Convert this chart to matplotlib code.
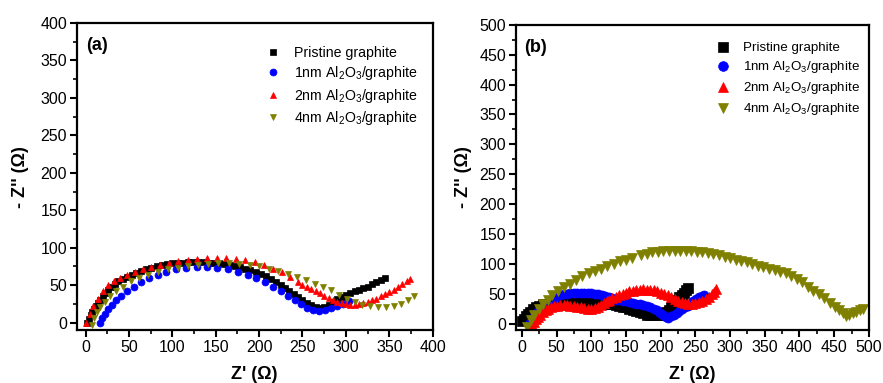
import matplotlib
matplotlib.use("Agg")
import matplotlib.pyplot as plt
from matplotlib.ticker import MultipleLocator

plt.rcParams["font.family"] = ["Liberation Sans", "DejaVu Sans"]
plt.rcParams["mathtext.fontset"] = "custom"
plt.rcParams["mathtext.rm"] = "Liberation Sans"
plt.rcParams["mathtext.it"] = "Liberation Sans:italic"

labels = [
    "Pristine graphite",
    "1nm Al$_2$O$_3$/graphite",
    "2nm Al$_2$O$_3$/graphite",
    "4nm Al$_2$O$_3$/graphite",
]
colors  = ["#000000", "#0000ff", "#ff0000", "#808000"]
markers = ["s", "o", "^", "v"]

# panel (a)
a_pristine_x = [2, 4, 6, 8, 10, 12, 14, 17, 20, 23, 26, 30, 34, 38, 43, 48, 53, 58, 64, 70,
                76, 82, 88, 94, 100, 106, 112, 118, 124, 130, 136, 142, 148, 154, 160, 166,
                172, 178, 184, 190, 196, 202, 208, 214, 220, 225, 230, 235, 240, 245, 250,
                255, 260, 265, 270, 275, 280, 285, 290, 295, 300, 305, 310, 315, 320, 325,
                330, 335, 340, 345]
a_pristine_y = [0, 5, 10, 14, 18, 22, 26, 30, 35, 39, 43, 48, 52, 55, 58, 61, 64, 66, 69, 71,
                73, 75, 77, 78, 79, 80, 80, 81, 81, 81, 81, 80, 80, 79, 78, 77,
                76, 74, 72, 70, 68, 65, 62, 58, 54, 50, 46, 42, 38, 34, 30,
                26, 23, 21, 20, 21, 23, 27, 31, 34, 37, 40, 42, 44, 46, 48,
                51, 54, 57, 60]
a_1nm_x = [17, 19, 22, 26, 30, 35, 41, 48, 56, 64, 73, 83, 93, 104, 116, 128, 140, 152, 164, 176,
           187, 197, 207, 216, 225, 233, 241, 248, 255, 262, 269, 276, 283, 290, 297, 304]
a_1nm_y = [0, 6, 12, 18, 24, 30, 36, 42, 48, 54, 59, 64, 68, 71, 73, 74, 74, 73, 71, 68,
           64, 60, 54, 48, 42, 36, 30, 25, 20, 17, 16, 17, 19, 22, 25, 29]
a_2nm_x = [1, 5, 9, 14, 20, 26, 33, 40, 48, 57, 66, 76, 86, 96, 107, 118, 129, 140, 151, 162,
           173, 184, 195, 206, 216, 226, 236, 245, 250, 255, 260, 265, 270, 275, 280, 285,
           290, 295, 300, 305, 310, 315, 320, 325, 330, 335, 340, 345, 350, 355, 360, 365,
           370, 374]
a_2nm_y = [0, 12, 22, 32, 42, 50, 55, 59, 63, 67, 71, 74, 77, 80, 82, 84, 85, 86, 86, 86,
           85, 84, 81, 77, 72, 67, 61, 54, 50, 47, 45, 42, 39, 36, 33, 30,
           28, 26, 25, 24, 24, 25, 26, 28, 30, 32, 35, 38, 41, 44, 48, 51,
           55, 58]
a_4nm_x = [7, 10, 13, 17, 22, 28, 35, 43, 52, 62, 72, 83, 95, 107, 118, 130, 141, 153, 165, 177,
           189, 200, 211, 222, 233, 244, 254, 264, 274, 283, 292, 301, 310, 319, 328, 337,
           346, 355, 364, 372, 378]
a_4nm_y = [-3, 6, 14, 21, 28, 35, 42, 48, 55, 60, 64, 68, 71, 73, 75, 77, 78, 79, 79, 78,
           77, 75, 72, 69, 65, 61, 57, 52, 48, 43, 37, 32, 27, 24, 22, 21,
           21, 22, 25, 30, 35]

# panel (b)
b_pristine_x = [0, 3, 6, 9, 12, 16, 20, 25, 30, 35, 40, 45, 50, 55, 60, 65, 70, 75, 80, 85,
                90, 95, 100, 105, 110, 115, 120, 125, 130, 135, 140, 145, 150, 155, 160, 165,
                170, 175, 180, 185, 190, 195, 200, 204, 208, 212, 215, 218, 221, 224, 227,
                230, 233, 236, 239]
b_pristine_y = [4, 8, 12, 16, 20, 24, 27, 30, 32, 33, 34, 35, 36, 36, 36, 37, 37, 37, 37, 37,
                37, 36, 36, 35, 34, 33, 33, 32, 32, 31, 30, 28, 27, 25, 23, 21,
                19, 17, 15, 14, 14, 14, 15, 17, 20, 23, 27, 31, 35, 39, 44,
                48, 52, 56, 60]
b_1nm_x = [10, 13, 16, 19, 22, 26, 30, 34, 38, 42, 46, 50, 55, 60, 65, 70, 75, 80, 85, 90,
           95, 100, 105, 110, 115, 120, 125, 130, 135, 140, 145, 150, 155, 160, 165, 170,
           175, 180, 185, 190, 195, 199, 203, 207, 211, 215, 219, 223, 227, 231, 235, 239,
           243, 247, 251, 255, 259, 263]
b_1nm_y = [0, 5, 10, 15, 19, 24, 28, 32, 36, 39, 42, 45, 47, 49, 50, 51, 52, 52, 52, 52,
           51, 51, 50, 49, 48, 46, 44, 42, 40, 39, 38, 37, 36, 34, 33, 32,
           31, 29, 27, 25, 22, 18, 14, 11, 10, 12, 15, 18, 21, 24, 27, 30,
           34, 38, 41, 44, 46, 48]
b_2nm_x = [14, 17, 20, 23, 26, 30, 34, 38, 42, 46, 50, 55, 60, 65, 70, 75, 80, 85, 90, 95,
           100, 105, 110, 114, 118, 122, 126, 130, 135, 140, 145, 150, 155, 160, 165, 170,
           175, 180, 185, 190, 195, 200, 205, 210, 215, 220, 225, 230, 235, 240, 245, 250,
           255, 260, 265, 270, 274, 277, 280]
b_2nm_y = [-3, 2, 7, 11, 15, 19, 22, 25, 27, 29, 30, 31, 31, 31, 30, 29, 28, 27, 26, 25,
           25, 26, 28, 31, 34, 37, 40, 42, 45, 48, 50, 52, 54, 55, 56, 57,
           58, 57, 57, 56, 54, 52, 50, 47, 44, 41, 38, 36, 34, 33, 33, 34,
           36, 38, 41, 45, 49, 53, 58]
b_4nm_x = [8, 13, 18, 24, 30, 37, 44, 52, 60, 69, 78, 87, 96, 105, 114, 123, 132, 141, 150, 159,
           172, 180, 188, 196, 204, 212, 220, 228, 236, 244, 252, 260, 268, 276, 284, 292,
           300, 308, 316, 324, 332, 340, 348, 356, 364, 372, 380, 388, 396, 404, 412, 420,
           428, 436, 444, 451, 457, 462, 467, 472, 477, 482, 487, 492]
b_4nm_y = [-5, 6, 15, 24, 32, 40, 47, 54, 61, 67, 73, 79, 84, 88, 92, 96, 100, 104, 107, 110,
           115, 117, 119, 120, 121, 121, 121, 121, 121, 121, 120, 119, 118, 116, 114, 111,
           109, 107, 105, 103, 100, 97, 95, 92, 89, 87, 84, 80, 75, 69, 62, 55,
           49, 42, 35, 28, 22, 17, 13, 15, 17, 20, 22, 25]

panels = [
    {
        "tag": "(a)",
        "series": [(a_pristine_x, a_pristine_y), (a_1nm_x, a_1nm_y),
                   (a_2nm_x, a_2nm_y), (a_4nm_x, a_4nm_y)],
        "xlim": (-10, 400), "ylim": (-10, 400),
        "ms": 5.0, "legend_ms": 5.0, "legend_fs": 10.2, "legend_sp": 0.32,
        "rect": [0.087, 0.138, 0.403, 0.802],
        "legend_anchor": (0.985, 0.958),
        "ylabelpad": 8,
    },
    {
        "tag": "(b)",
        "series": [(b_pristine_x, b_pristine_y), (b_1nm_x, b_1nm_y),
                   (b_2nm_x, b_2nm_y), (b_4nm_x, b_4nm_y)],
        "xlim": (-9, 500), "ylim": (-11, 500),
        "ms": 6.5, "legend_ms": 7.0, "legend_fs": 9.6, "legend_sp": 0.38,
        "rect": [0.584, 0.138, 0.400, 0.797],
        "legend_anchor": (1.0, 0.975),
        "ylabelpad": 5,
    },
]

fig = plt.figure(figsize=(8.83, 3.83), dpi=100)

for p in panels:
    ax = fig.add_axes(p["rect"])
    for (xs, ys), c, m, lab in zip(p["series"], colors, markers, labels):
        ax.plot(xs, ys, linestyle="none", marker=m, ms=p["ms"], color=c, mec=c,
                mew=0.5, label=lab)

    ax.set_xlim(*p["xlim"])
    ax.set_ylim(*p["ylim"])
    ax.xaxis.set_major_locator(MultipleLocator(50))
    ax.xaxis.set_minor_locator(MultipleLocator(25))
    ax.yaxis.set_major_locator(MultipleLocator(50))
    ax.yaxis.set_minor_locator(MultipleLocator(25))
    ax.tick_params(which="major", direction="out", length=5, width=1.5,
                   labelsize=11.5, pad=2, top=False, right=False)
    ax.tick_params(which="minor", direction="out", length=3, width=1.2,
                   top=False, right=False)
    for s in ax.spines.values():
        s.set_linewidth(1.6)

    ax.set_xlabel("Z' (\u03a9)", fontsize=13, fontweight="bold", labelpad=8)
    ax.set_ylabel("- Z'' (\u03a9)", fontsize=13, fontweight="bold", labelpad=p["ylabelpad"])
    ax.text(0.025, 0.955, p["tag"], transform=ax.transAxes, fontsize=13,
            fontweight="bold", va="top", ha="left")

    leg = ax.legend(loc="upper right", bbox_to_anchor=p["legend_anchor"], frameon=False,
                    fontsize=p["legend_fs"], handletextpad=0.9, labelspacing=p["legend_sp"],
                    borderaxespad=0.3, handlelength=1.2)
    for h in leg.legend_handles:
        h.set_markersize(p["legend_ms"])

fig.savefig("out.png", dpi=100)
